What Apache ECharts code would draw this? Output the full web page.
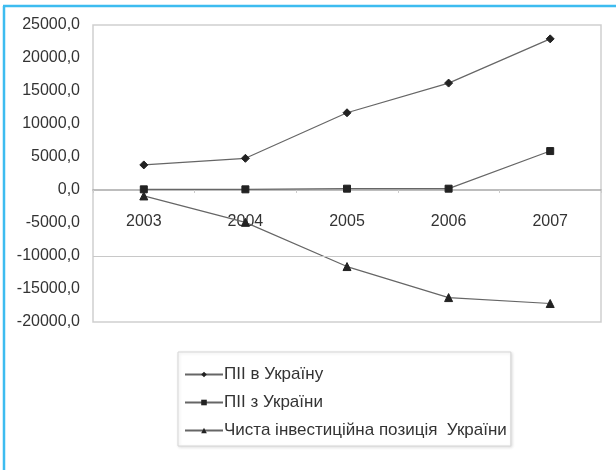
<!DOCTYPE html>
<html>
<head>
<meta charset="utf-8">
<script src="https://cdn.jsdelivr.net/npm/echarts@6/dist/echarts.min.js"></script>
<style>
    html, body { margin: 0; padding: 0; background: #fff; }
    #mychart { width: 616px; height: 470px; }
</style>
</head>
<body>
<div id="mychart"></div>
<script>
    // дані з графіка
    var years = ['2003', '2004', '2005', '2006', '2007'];
    var piiIn = [3800, 4800, 11700, 16200, 22900];
    var piiOut = [100, 100, 200, 200, 5900];
    var netPosition = [-900, -4900, -11600, -16300, -17200];
    var seriesNames = ['ПІІ в Україну', 'ПІІ з України', 'Чиста інвестиційна позиція  України'];
    var yTicks = { min: -20000, max: 25000, interval: 5000 };

    var mychart = echarts.init(document.getElementById('mychart'), null, {renderer: 'canvas'});

    function makeSeries(name, data, symbol, size) {
        return {
            name: name,
            type: 'line',
            data: data,
            symbol: symbol,
            symbolSize: size,
            showAllSymbol: true,
            lineStyle: {color: '#666', width: 1.2},
            itemStyle: {color: '#222', borderColor: '#222'},
            emphasis: {disabled: true},
            animation: false
        };
    }

    var s1 = makeSeries(seriesNames[0], piiIn, 'diamond', 8);
    var s2 = makeSeries(seriesNames[1], piiOut, 'rect', 7);
    var s3 = makeSeries(seriesNames[2], netPosition, 'triangle', 8);
    // лінія сітки на -10000
    s3.markLine = {
        silent: true,
        symbol: 'none',
        label: {show: false},
        lineStyle: {color: '#c8c8c8', type: 'solid', width: 1},
        data: [{yAxis: -10000}]
    };

    var option = {
        backgroundColor: '#fff',
        textStyle: {fontFamily: 'Liberation Sans, Arial, sans-serif'},
        graphic: [
            {type: 'line', shape: {x1: 3, y1: 6, x2: 616, y2: 6}, style: {stroke: '#3dbcf0', lineWidth: 2.5}},
            {type: 'line', shape: {x1: 4, y1: 6, x2: 4, y2: 470}, style: {stroke: '#3dbcf0', lineWidth: 2.5}}
        ],
        grid: {
            left: 93, right: 15, top: 25, bottom: 148,
            show: true, borderColor: '#cfcfcf', borderWidth: 1.5
        },
        legend: {
            orient: 'vertical',
            left: 178, top: 352,
            padding: [14, 4, 7, 6],
            itemGap: 11,
            itemWidth: 38, itemHeight: 7,
            backgroundColor: '#fff',
            borderColor: '#d6d6d6', borderWidth: 1,
            shadowColor: 'rgba(0,0,0,0.12)', shadowBlur: 3, shadowOffsetX: 1, shadowOffsetY: 1,
            textStyle: {fontSize: 17, color: '#333', padding: [0, 0, 0, -4]},
            data: seriesNames
        },
        xAxis: {
            type: 'category',
            data: years,
            boundaryGap: true,
            position: 'bottom',
            offset: -132,
            axisLine: {onZero: false, lineStyle: {color: '#a8a8a8', width: 1.5}},
            axisTick: {show: true, length: 3, lineStyle: {color: '#ccc'}},
            axisLabel: {color: '#333', fontSize: 16, margin: 24}
        },
        yAxis: {
            type: 'value',
            min: yTicks.min, max: yTicks.max, interval: yTicks.interval,
            axisLine: {show: false},
            axisTick: {show: false},
            splitLine: {show: false},
            axisLabel: {
                color: '#333', fontSize: 16, margin: 13, padding: [6, 0, 0, 0],
                formatter: function (v) { return v.toFixed(1).replace('.', ','); }
            }
        },
        series: [s1, s2, s3]
    };
    mychart.setOption(option);
</script>
</body>
</html>
